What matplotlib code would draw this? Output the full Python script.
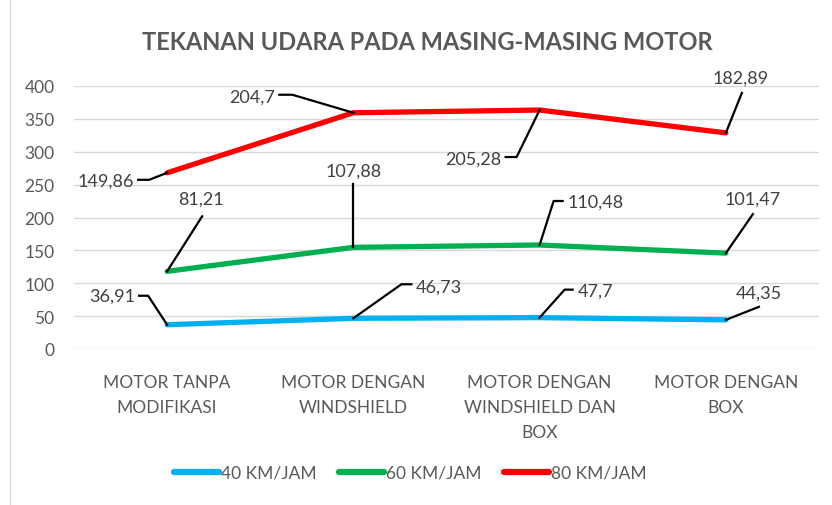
import matplotlib.pyplot as plt
import numpy as np
from matplotlib.lines import Line2D

plt.rcParams['font.family'] = ['Lato', 'DejaVu Sans']

categories = ['MOTOR TANPA\nMODIFIKASI', 'MOTOR DENGAN\nWINDSHIELD',
              'MOTOR DENGAN\nWINDSHIELD DAN\nBOX', 'MOTOR DENGAN\nBOX']
series_names = ['40 KM/JAM', '60 KM/JAM', '80 KM/JAM']
v40 = [36.91, 46.73, 47.7, 44.35]
v60 = [81.21, 107.88, 110.48, 101.47]
v80 = [149.86, 204.7, 205.28, 182.89]
colors = ['#00B0F0', '#00B050', '#FF0000']

# leader line shapes in pixel offsets from the point (x right, y up)
# (line vertices, text anchor, ha)
leaders = [
    [([(-19, 29), (-28, 29)], (-32, 29), 'right'),
     ([(48, 34), (58, 34)], (62, 32), 'left'),
     ([(25, 28), (33, 28)], (38, 27), 'left'),
     ([(33, 13)], (33, 27), 'center')],
    [([(35, 55)], (34, 73), 'center'),
     ([(0, 63)], (0, 77), 'center'),
     ([(14, 44), (23, 44)], (28, 43), 'left'),
     ([(27, 39)], (27, 54), 'center')],
    [([(-18, -7), (-29, -7)], (-33, -8), 'right'),
     ([(-61, 18), (-74, 18)], (-78, 16), 'right'),
     ([(-23, -47), (-34, -47)], (-38, -49), 'right'),
     ([(16, 40)], (15, 55), 'center')],
]

fig = plt.figure(figsize=(8.32, 5.06), dpi=100)
ax = fig.add_axes([74 / 832, 1 - 350 / 506, (819 - 74) / 832, (350 - 87) / 506])

x = np.arange(len(categories))
stacked = np.cumsum([v40, v60, v80], axis=0)
raw = [v40, v60, v80]

for i, name in enumerate(series_names):
    ax.plot(x, stacked[i], color=colors[i], lw=3.8, label=name,
            solid_capstyle='round', solid_joinstyle='round', zorder=3)

ax.set_xlim(-0.5, 3.5)
ax.set_ylim(0, 400)
ax.set_yticks(range(0, 401, 50))
ax.set_xticks(x)
ax.set_xticklabels(categories, fontsize=12.5, color='#595959', linespacing=1.7)
ax.tick_params(axis='y', labelsize=12.5, labelcolor='#595959', length=0, pad=14)
ax.tick_params(axis='x', length=0, pad=18)
ax.grid(axis='y', color='#D9D9D9', lw=1)
ax.set_axisbelow(True)
for s in ax.spines.values():
    s.set_visible(False)

fig.canvas.draw()
for i in range(3):
    for j in range(4):
        verts, (tx, ty), ha = leaders[i][j]
        px, py = ax.transData.transform((x[j], stacked[i][j]))
        xs = [px] + [px + dx for dx, dy in verts]
        ys = [py] + [py + dy for dx, dy in verts]
        fig.add_artist(Line2D(xs, ys, transform=None, color='black', lw=1.6, zorder=4))
        label = f'{raw[i][j]:g}'.replace('.', ',')
        fig.text(px + tx, py + ty, label, transform=None, ha=ha, va='center',
                 fontsize=13, color='#404040')

fig.text(427 / 832, 1 - 43 / 506, 'TEKANAN UDARA PADA MASING-MASING MOTOR',
         ha='center', va='center', fontsize=17, fontweight='bold', color='#595959')

handles = [Line2D([0], [0], color=c, lw=4.5, solid_capstyle='round') for c in colors]
fig.legend(handles, series_names, loc='center', bbox_to_anchor=(410 / 832, 1 - 474 / 506),
           ncol=3, frameon=False, fontsize=12.5, labelcolor='#595959',
           handlelength=2.6, handletextpad=0.1, columnspacing=1.3)

fig.add_artist(Line2D([10 / 832, 10 / 832], [0, 1], color='#D9D9D9', lw=1))

fig.savefig('out.png', dpi=100)
